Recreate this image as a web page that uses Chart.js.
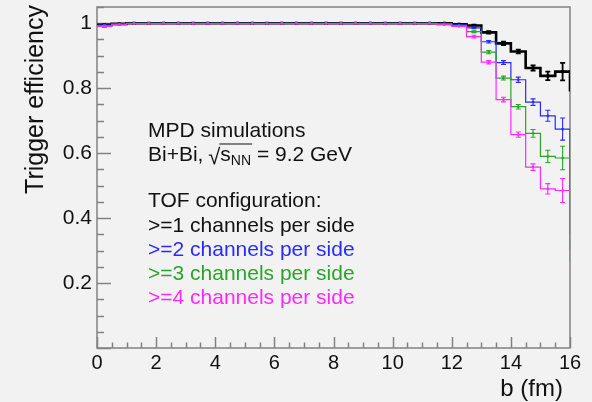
<!DOCTYPE html>
<html>
<head>
<meta charset="utf-8">
<script src="https://cdn.jsdelivr.net/npm/chart.js@4.4.0/dist/chart.umd.min.js"></script>
<style>
html,body{margin:0;padding:0;background:#f2f2f2;}
canvas{display:block;}
</style>
</head>
<body>
<canvas id="c" width="592" height="402"></canvas>
<script>
// ---- data ----
const binLow = [0,0.5,1,1.5,2,2.5,3,3.5,4,4.5,5,5.5,6,6.5,7,7.5,8,8.5,9,9.5,10,10.5,11,11.5,12,12.5,13,13.5,14,14.5,15,15.5];
const binWidth = 0.5;
const binHigh = 16;

const effGe1 = [0.995,0.998,1,1,1,1,1,1,1,1,1,1,1,1,1,1,1,1,1,1,1,1,1,1,0.997,0.993,0.972,0.938,0.913,0.862,0.838,0.851];
const effGe2 = [0.994,0.997,1,1,1,1,1,1,1,1,1,1,1,1,1,1,1,1,1,1,1,1,1,0.999,0.995,0.986,0.943,0.879,0.826,0.757,0.715,0.674];
const effGe3 = [0.993,0.997,1,1,1,1,1,1,1,1,1,1,1,1,1,1,1,1,1,1,1,1,1,0.998,0.993,0.974,0.911,0.831,0.743,0.661,0.590,0.585];
const effGe4 = [0.990,0.995,0.999,0.999,0.999,0.999,0.999,0.999,0.999,0.999,0.999,0.999,0.999,0.999,0.999,0.999,0.999,0.999,0.999,0.999,0.999,0.999,0.999,0.995,0.990,0.959,0.880,0.765,0.657,0.557,0.490,0.485];

const errGe1 = [0.002,0.001,0,0,0,0,0,0,0,0,0,0,0,0,0,0,0,0,0,0,0,0,0,0,0.002,0.003,0.004,0.005,0.006,0.008,0.013,0.027];
const errGe2 = [0.002,0.001,0,0,0,0,0,0,0,0,0,0,0,0,0,0,0,0,0,0,0,0,0,0,0.002,0.003,0.004,0.006,0.008,0.010,0.017,0.034];
const errGe3 = [0.002,0.001,0,0,0,0,0,0,0,0,0,0,0,0,0,0,0,0,0,0,0,0,0,0,0.002,0.003,0.005,0.006,0.007,0.012,0.019,0.036];
const errGe4 = [0.003,0.002,0,0,0,0,0,0,0,0,0,0,0,0,0,0,0,0,0,0,0,0,0,0,0.002,0.004,0.005,0.007,0.008,0.010,0.016,0.037];

// value the histogram outline falls to at the right edge
const dropGe1 = 0.79;
const dropGe2 = 0.35;
const dropGe3 = 0.30;
const dropGe4 = 0.266;

const xTickValues = [0,2,4,6,8,10,12,14,16];
const xTickLabels = ['0','2','4','6','8','10','12','14','16'];
const yTickValues = [0.2,0.4,0.6,0.8,1];
const yTickLabels = ['0.2','0.4','0.6','0.8','1'];

const infoLines = ['MPD simulations', 'Bi+Bi, ', 'TOF configuration:'];
const seriesLabels = ['>=1 channels per side','>=2 channels per side','>=3 channels per side','>=4 channels per side'];
const xTitle = 'b (fm)';
const yTitle = 'Trigger efficiency';

// ---- styles ----
const FONT = "'Liberation Sans', Arial, Helvetica, sans-serif";
const series = [
  {vals: effGe1, errs: errGe1, drop: dropGe1, color: '#000000', text: '#111111', lw: 2.6, mr: 2.2, ew: 1.8, order: 4},
  {vals: effGe2, errs: errGe2, drop: dropGe2, color: '#2a2aff', text: '#2a2aff', lw: 1.2, mr: 1.6, ew: 1.1, order: 3},
  {vals: effGe3, errs: errGe3, drop: dropGe3, color: '#2aa52a', text: '#2aa52a', lw: 1.2, mr: 1.6, ew: 1.1, order: 2},
  {vals: effGe4, errs: errGe4, drop: dropGe4, color: '#ff2aff', text: '#ff2aff', lw: 1.2, mr: 1.6, ew: 1.1, order: 1}
];

function stepData(vals, drop) {
  const d = binLow.map((x, i) => ({x: x, y: vals[i]}));
  d.push({x: binHigh, y: vals[vals.length - 1]});
  d.push({x: binHigh, y: drop});
  return d;
}
function markerData(vals) {
  return binLow.map((x, i) => ({x: x + binWidth / 2, y: vals[i]}));
}

const datasets = [];
series.forEach(s => {
  datasets.push({
    data: stepData(s.vals, s.drop), stepped: true, borderColor: s.color, borderWidth: s.lw,
    pointRadius: 0, fill: false, order: s.order, tension: 0
  });
  datasets.push({
    data: markerData(s.vals), showLine: false, pointStyle: 'rect', pointRadius: s.mr,
    pointBackgroundColor: s.color, pointBorderWidth: 0, pointBorderColor: s.color, order: s.order
  });
});

const bgPlugin = {
  id: 'bg',
  beforeDraw(chart) {
    const ctx = chart.ctx;
    ctx.save();
    ctx.fillStyle = '#f2f2f2';
    ctx.fillRect(0, 0, chart.width, chart.height);
    ctx.restore();
  }
};

const framePlugin = {
  id: 'frame',
  beforeDatasetsDraw(chart) {
    const ctx = chart.ctx, a = chart.chartArea, xs = chart.scales.x, ys = chart.scales.y;
    ctx.save();
    ctx.strokeStyle = '#828282';
    ctx.lineWidth = 1.5;
    ctx.strokeRect(a.left, a.top, a.right - a.left, a.bottom - a.top);
    ctx.beginPath();
    for (let k = 0; k <= 21; k++) {
      const v = k * 0.05;
      const y = Math.round(ys.getPixelForValue(v)) + 0.5;
      const len = (k % 4 === 0) ? 14 : 7;
      ctx.moveTo(a.left, y); ctx.lineTo(a.left + len, y);
    }
    for (let k = 0; k <= 32; k++) {
      const v = k * 0.5;
      const x = Math.round(xs.getPixelForValue(v)) + 0.5;
      const len = (k % 4 === 0) ? 11 : 5.5;
      ctx.moveTo(x, a.bottom); ctx.lineTo(x, a.bottom - len);
    }
    ctx.stroke();
    ctx.restore();
  }
};

const errPlugin = {
  id: 'errbars',
  afterDatasetsDraw(chart) {
    const ctx = chart.ctx, a = chart.chartArea, xs = chart.scales.x, ys = chart.scales.y;
    ctx.save();
    ctx.beginPath(); ctx.rect(a.left, a.top, a.right - a.left, a.bottom - a.top); ctx.clip();
    series.forEach(s => {
      ctx.strokeStyle = s.color;
      ctx.lineWidth = s.ew;
      ctx.beginPath();
      s.vals.forEach((v, i) => {
        const e = s.errs[i];
        if (!(e > 0.0025)) return;
        const cx = xs.getPixelForValue(binLow[i] + binWidth / 2);
        const y1 = ys.getPixelForValue(v + e), y2 = ys.getPixelForValue(v - e);
        ctx.moveTo(cx, y1); ctx.lineTo(cx, y2);
        ctx.moveTo(cx - 2.5, y1); ctx.lineTo(cx + 2.5, y1);
        ctx.moveTo(cx - 2.5, y2); ctx.lineTo(cx + 2.5, y2);
      });
      ctx.stroke();
    });
    ctx.restore();
  }
};

const textPlugin = {
  id: 'texts',
  afterDraw(chart) {
    const ctx = chart.ctx;
    ctx.save();
    // axis titles
    ctx.fillStyle = '#111111';
    ctx.font = '24px ' + FONT;
    ctx.textBaseline = 'alphabetic';
    ctx.textAlign = 'right';
    ctx.fillText(xTitle, 563, 396);
    ctx.save();
    ctx.translate(43, 5);
    ctx.rotate(-Math.PI / 2);
    ctx.textAlign = 'right';
    ctx.font = '25px ' + FONT;
    ctx.fillText(yTitle, 0, 0);
    ctx.restore();

    // info block
    const x0 = 148;
    const F = 21;
    ctx.textAlign = 'left';
    ctx.font = F + 'px ' + FONT;
    ctx.fillStyle = '#111111';
    ctx.fillText(infoLines[0], x0, 137);
    // Bi+Bi, sqrt(s_NN) = 9.2 GeV
    let x = x0;
    const yb = 161;
    ctx.fillText(infoLines[1], x, yb);
    x += ctx.measureText(infoLines[1]).width;
    ctx.font = '22px ' + FONT;
    ctx.fillText('\u221A', x - 1, yb + 3);
    const rw = ctx.measureText('\u221A').width;
    const ovStart = x - 1 + rw - 1;
    x = x - 1 + rw;
    ctx.font = F + 'px ' + FONT;
    ctx.fillText('s', x, yb);
    x += ctx.measureText('s').width;
    ctx.font = '14px ' + FONT;
    ctx.fillText('NN', x, yb + 4);
    x += ctx.measureText('NN').width;
    ctx.strokeStyle = '#111111';
    ctx.lineWidth = 1.2;
    ctx.beginPath(); ctx.moveTo(ovStart, yb - 17); ctx.lineTo(x + 1, yb - 17); ctx.stroke();
    ctx.font = F + 'px ' + FONT;
    ctx.fillText(' = 9.2 GeV', x, yb);

    ctx.fillText(infoLines[2], x0, 207);
    const ys0 = [232, 256, 280, 304];
    seriesLabels.forEach((t, i) => {
      ctx.fillStyle = series[i].text;
      ctx.fillText(t, x0, ys0[i]);
    });
    ctx.restore();
  }
};

Chart.defaults.font.family = FONT;
Chart.defaults.color = '#111111';

new Chart(document.getElementById('c'), {
  type: 'line',
  data: {datasets: datasets},
  plugins: [bgPlugin, framePlugin, errPlugin, textPlugin],
  options: {
    responsive: false,
    animation: false,
    events: [],
    layout: {padding: {left: 0, right: 22, top: 7, bottom: 0}},
    plugins: {legend: {display: false}, tooltip: {enabled: false}},
    scales: {
      x: {
        type: 'linear', min: 0, max: 16,
        grid: {display: false, drawTicks: false},
        border: {display: false},
        afterBuildTicks: (sc) => { sc.ticks = xTickValues.map(v => ({value: v})); },
        afterFit: (sc) => { sc.height = 54; sc.paddingLeft = 0; sc.paddingRight = 0; },
        ticks: {
          autoSkip: false, maxRotation: 0, padding: 3,
          font: {size: 20}, color: '#111111',
          callback: (v, i) => xTickLabels[i]
        }
      },
      y: {
        type: 'linear', min: 0, max: 1.05,
        grid: {display: false, drawTicks: false},
        border: {display: false},
        afterBuildTicks: (sc) => { sc.ticks = yTickValues.map(v => ({value: v})); },
        afterFit: (sc) => { sc.width = 97; sc.paddingTop = 0; sc.paddingBottom = 0; },
        ticks: {
          autoSkip: false, padding: 5,
          font: {size: 21}, color: '#111111',
          callback: (v, i) => yTickLabels[i]
        }
      }
    }
  }
});
</script>
</body>
</html>
